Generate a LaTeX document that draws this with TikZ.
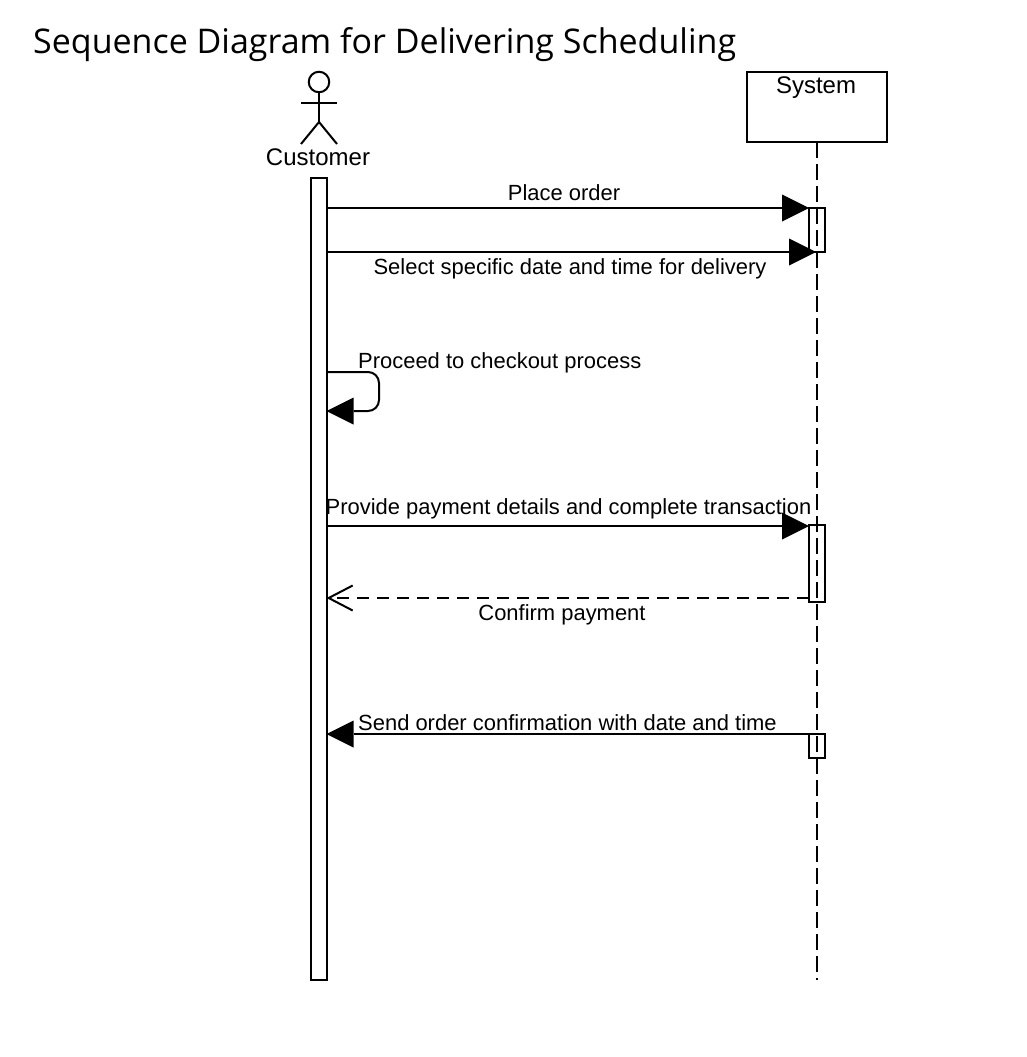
\documentclass[tikz,border=0pt]{standalone}
\usepackage{fontspec}
\setmainfont{Liberation Sans}
\newfontfamily\titlefont{Open Sans}
\usetikzlibrary{arrows.meta}
\tikzset{
  x=1pt,y=-1pt,
  ln/.style={line width=2pt,black},
  lbl/.style={inner sep=0pt,font=\fontsize{21.95pt}{24pt}\selectfont,text=black},
  actorlbl/.style={inner sep=0pt,font=\fontsize{24pt}{26pt}\selectfont,text=black},
  box/.style={ln,draw,rectangle,inner sep=0pt,outer sep=0pt,minimum width=16pt},
  msg/.style={ln,-{Triangle[length=27pt,width=27pt,line width=0pt]}},
  reply/.style={ln,dash pattern=on 12pt off 8pt,-{Straight Barb[length=24pt,width=25pt,line width=2pt]}},
  life/.style={ln,dash pattern=on 16pt off 6pt},
}
\begin{document}
\begin{tikzpicture}
\useasboundingbox[fill=white] (0,0) rectangle (1027,1057);
\node[inner sep=0pt,anchor=base west,font=\titlefont\fontsize{34pt}{38pt}\selectfont] (title) at (33,54) {Sequence Diagram for Delivering Scheduling};
% actor
\node[ln,draw,circle,minimum size=20.5pt,inner sep=0pt,outer sep=0pt] (head) at (319,82) {};
\coordinate (hip) at (319,122);
\coordinate (armL) at (301,103);
\coordinate (armR) at (337,103);
\coordinate (footL) at (301,144);
\coordinate (footR) at (337,144);
\draw[ln] (head.south) -- (hip);
\draw[ln] (armL) -- (armR);
\draw[ln] (footL) -- (hip) -- (footR);
\node[actorlbl,anchor=base] (cust) at (318,165) {Customer};
% system
\node[box,minimum width=140pt,minimum height=70pt] (sys) at (817,107) {};
\node[actorlbl,anchor=base] (sysl) at (816,93) {System};
\coordinate (lifeEnd) at (817,980);
\draw[life] (sys.south) -- (lifeEnd);
% activations
\node[box,minimum height=802pt] (custBar) at (319,579) {};
\node[box,minimum height=44pt] (a1) at (817,230) {};
\node[box,minimum height=77pt] (a2) at (817,563.5) {};
\node[box,minimum height=24pt] (a3) at (817,746) {};
% connector anchors
\coordinate (c1) at (326,208);
\coordinate (c2) at (326,252);
\coordinate (c3a) at (326,372);
\coordinate (c3b) at (379,372);
\coordinate (c3c) at (379,411);
\coordinate (c3d) at (326.5,411);
\coordinate (c4) at (326,526);
\coordinate (c5) at (326.5,598);
\coordinate (c6) at (326.5,734);
\coordinate (s2) at (816,252);
\draw[msg] (c1) -- (c1 -| a1.west);
\draw[msg] (c2) -- (s2);
\draw[msg,rounded corners=11pt] (c3a) -- (c3b) -- (c3c) -- (c3d);
\draw[msg] (c4) -- (c4 -| a2.west);
\draw[reply] (c5 -| a2.west) -- (c5);
\draw[msg] (a3.north west) -- (c6);
% labels
\node[lbl,anchor=base] (l1) at (564,200) {Place order};
\node[lbl,anchor=base] (l2) at (570,274) {Select specific date and time for delivery};
\node[lbl,anchor=base west] (l3) at (358,368) {Proceed to checkout process};
\node[lbl,anchor=base west] (l4) at (325.5,514) {Provide payment details and complete transaction};
\node[lbl,anchor=base] (l5) at (562,620) {Confirm payment};
\node[lbl,anchor=base west] (l6) at (358,730) {Send order confirmation with date and time};
\end{tikzpicture}
\end{document}
